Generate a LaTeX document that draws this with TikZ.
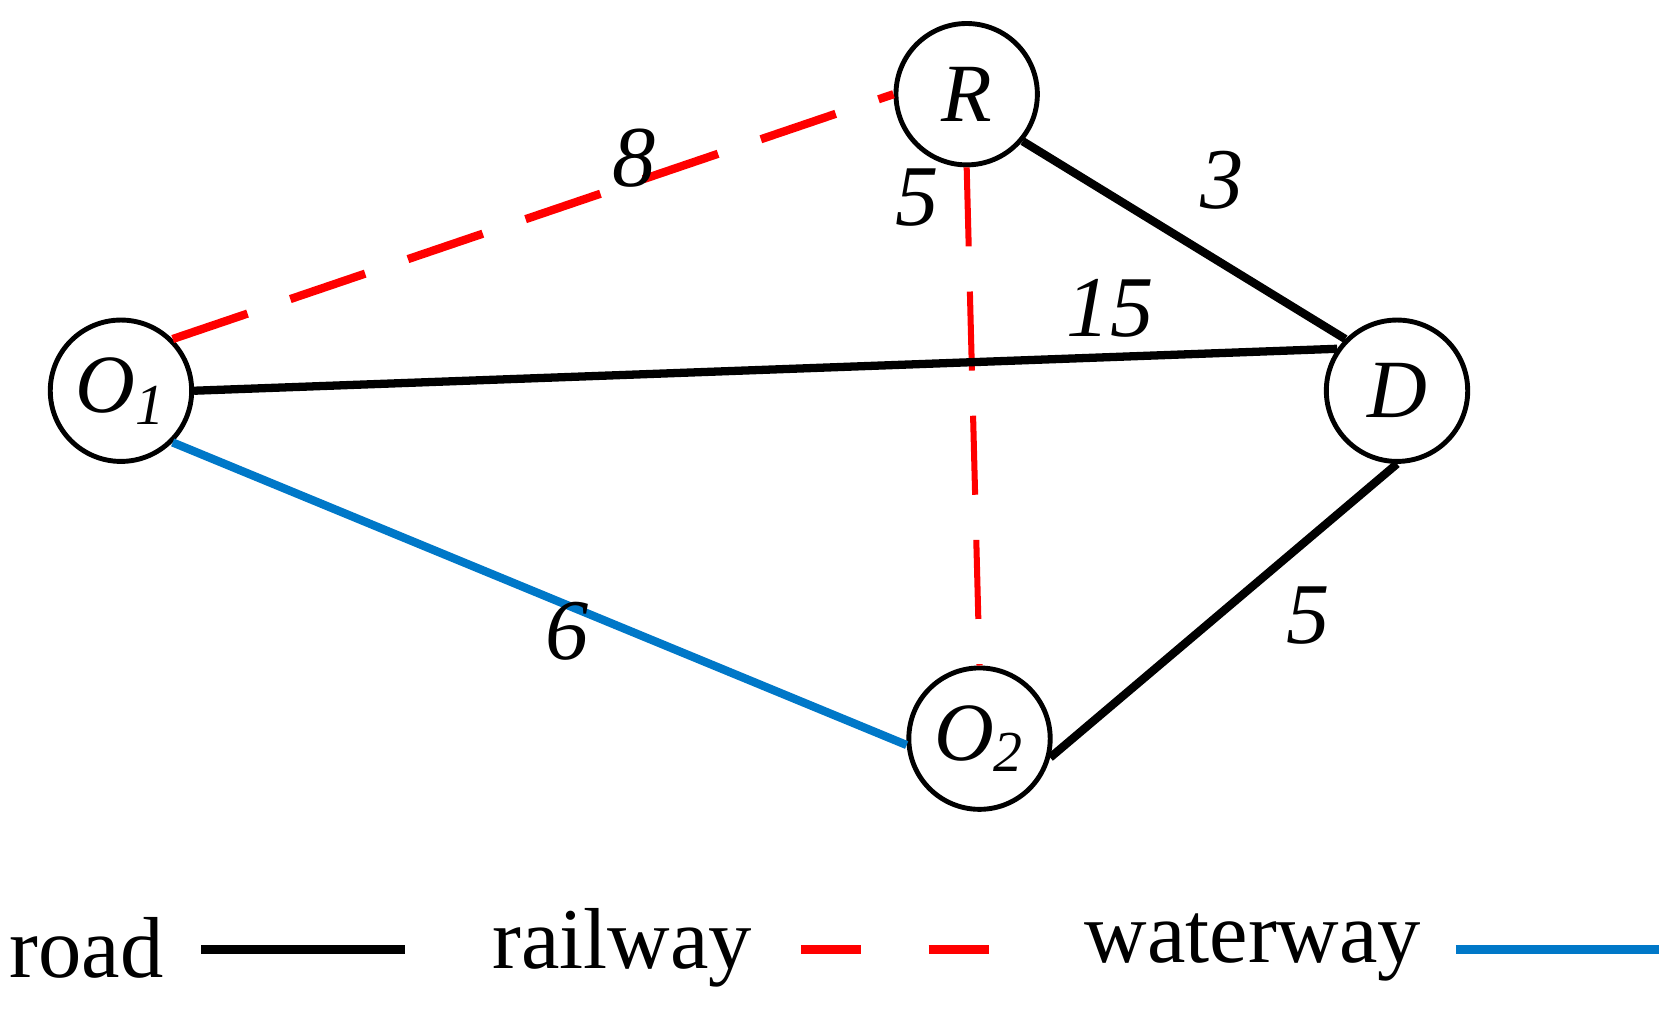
\documentclass[tikz,border=0pt]{standalone}
\usepackage{fontspec}
\setmainfont{Liberation Serif}
\begin{document}
\begin{tikzpicture}[x=0.01cm,y=-0.01cm,
  nd/.style={circle,draw,line width=1.3pt,minimum size=1.32cm,inner sep=0pt,font=\fontsize{22}{24}\selectfont\itshape},
  road/.style={line width=2.2pt,black},
  rail/.style={line width=2.2pt,red,dash pattern=on 21pt off 12pt},
  rail2/.style={line width=1.6pt,red,dash pattern=on 21pt off 12pt},
  water/.style={line width=2.2pt,color={rgb,255:red,0;green,120;blue,200}},
  lab/.style={font=\fontsize{23}{26}\selectfont\itshape},
  leg/.style={font=\fontsize{23}{26}\selectfont}]
\useasboundingbox (0,0) rectangle (1560,943);
\node[nd] (O1) at (113,365) {O\textsubscript{1}};
\node[nd] (R) at (903,88) {R};
\node[nd] (D) at (1305,365) {D};
\node[nd] (O2) at (915,690) {O\textsubscript{2}};
\draw[rail] (O1.45) -- (R.180);
\draw[rail2] (R.-90) -- (O2.90);
\draw[road] (R.-40) -- (D.135);
\draw[road] (O1.east) -- (D.145);
\draw[road] (D.-90) -- (O2.-15);
\draw[water] (O1.-45) -- (O2.185);
\node[lab] (l8) at (592,148) {8};
\node[lab] (l5a) at (857,185) {5};
\node[lab] (l3) at (1142,168) {3};
\node[lab] (l15) at (1037,288) {15};
\node[lab] (l5b) at (1222,575) {5};
\node[lab] (l6) at (530,590) {6};
\node[leg,anchor=east] (t1) at (165,885) {road};
\coordinate (a1) at (188,887); \coordinate (a2) at (378,887);
\draw[road] (a1) -- (a2);
\node[leg,anchor=east] (t2) at (715,885) {railway};
\coordinate (b1) at (748,887); \coordinate (b2) at (938,887);
\draw[rail,dash pattern=on 16pt off 18pt] (b1) -- (b2);
\node[leg,anchor=east] (t3) at (1340,885) {waterway};
\coordinate (c1) at (1360,887); \coordinate (c2) at (1550,887);
\draw[water] (c1) -- (c2);
\end{tikzpicture}
\end{document}
